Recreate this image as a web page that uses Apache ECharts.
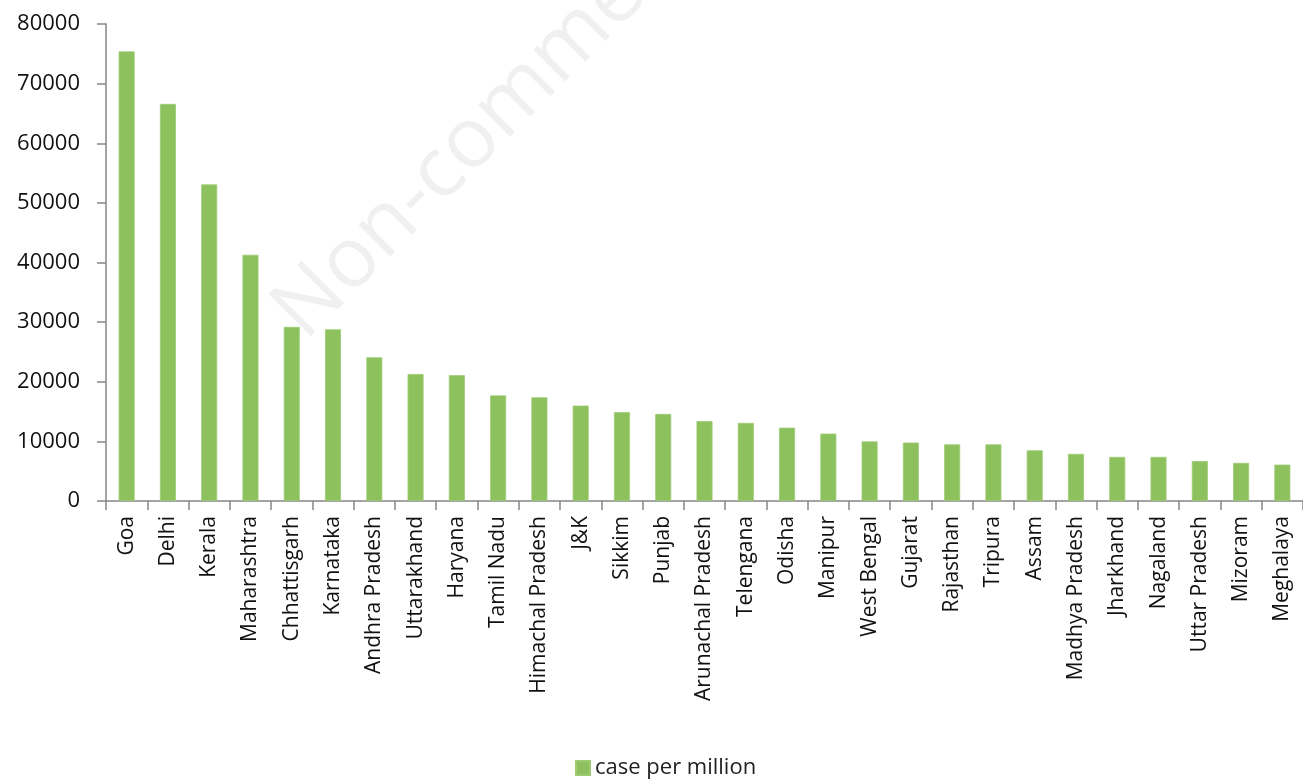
<!DOCTYPE html>
<html>
<head>
<meta charset="utf-8">
<script src="https://cdn.jsdelivr.net/npm/echarts@6/dist/echarts.min.js"></script>
<style>html,body{margin:0;padding:0;background:#fff;}#chart{width:1303px;height:780px;}</style>
</head>
<body>
<div id="chart"></div>
<script>
var categories = ["Goa","Delhi","Kerala","Maharashtra","Chhattisgarh","Karnataka","Andhra Pradesh","Uttarakhand","Haryana","Tamil Nadu","Himachal Pradesh","J&K","Sikkim","Punjab","Arunachal Pradesh","Telengana","Odisha","Manipur","West Bengal","Gujarat","Rajasthan","Tripura","Assam","Madhya Pradesh","Jharkhand","Nagaland","Uttar Pradesh","Mizoram","Meghalaya"];
var casePerMillion = [75400,66600,53100,41300,29200,28800,24100,21300,21100,17700,17400,16000,14900,14600,13400,13100,12300,11300,10000,9800,9500,9500,8500,7900,7400,7400,6700,6400,6100];
var seriesName = "case per million";
var yTicks = {min: 0, max: 80000, interval: 10000};
var watermark = "Non-commercial";

var chart = echarts.init(document.getElementById('chart'), null, {renderer: 'canvas'});
var font = "'Open Sans', 'Liberation Sans', sans-serif";
chart.setOption({
  animation: false,
  backgroundColor: '#ffffff',
  graphic: [{
    type: 'text',
    z: -10,
    x: 288,
    y: 325,
    rotation: Math.PI / 4,
    style: {
      text: watermark,
      fontSize: 84,
      fontFamily: font,
      fill: 'rgba(0,0,0,0.06)',
      textAlign: 'left',
      textVerticalAlign: 'middle'
    }
  }],
  grid: {left: 106, top: 24, width: 1205.5, height: 477, containLabel: false},
  legend: {
    left: 575, top: 757, padding: 0,
    itemWidth: 14, itemHeight: 14, itemGap: 8,
    textStyle: {fontSize: 22, color: '#222', fontFamily: font},
    data: [{name: seriesName, icon: 'rect'}]
  },
  xAxis: {
    type: 'category',
    data: categories,
    axisLine: {lineStyle: {color: '#868686', width: 1.5}},
    axisTick: {show: true, alignWithLabel: false, length: 9, lineStyle: {color: '#868686', width: 1.5}},
    axisLabel: {rotate: 90, interval: 0, margin: 15, fontSize: 21, color: '#111', fontFamily: font}
  },
  yAxis: {
    type: 'value',
    min: yTicks.min, max: yTicks.max, interval: yTicks.interval,
    axisLine: {show: true, lineStyle: {color: '#868686', width: 1.5}},
    axisTick: {show: true, length: 9, lineStyle: {color: '#868686', width: 1.5}},
    splitLine: {show: false},
    axisLabel: {margin: 26, fontSize: 22, color: '#111', fontFamily: font, formatter: function (v) { return String(v); }}
  },
  series: [{
    name: seriesName,
    type: 'bar',
    data: casePerMillion,
    barWidth: 16,
    itemStyle: {color: '#8DC15E', borderColor: '#9ECB72', borderWidth: 0.8}
  }]
});
</script>
</body>
</html>
